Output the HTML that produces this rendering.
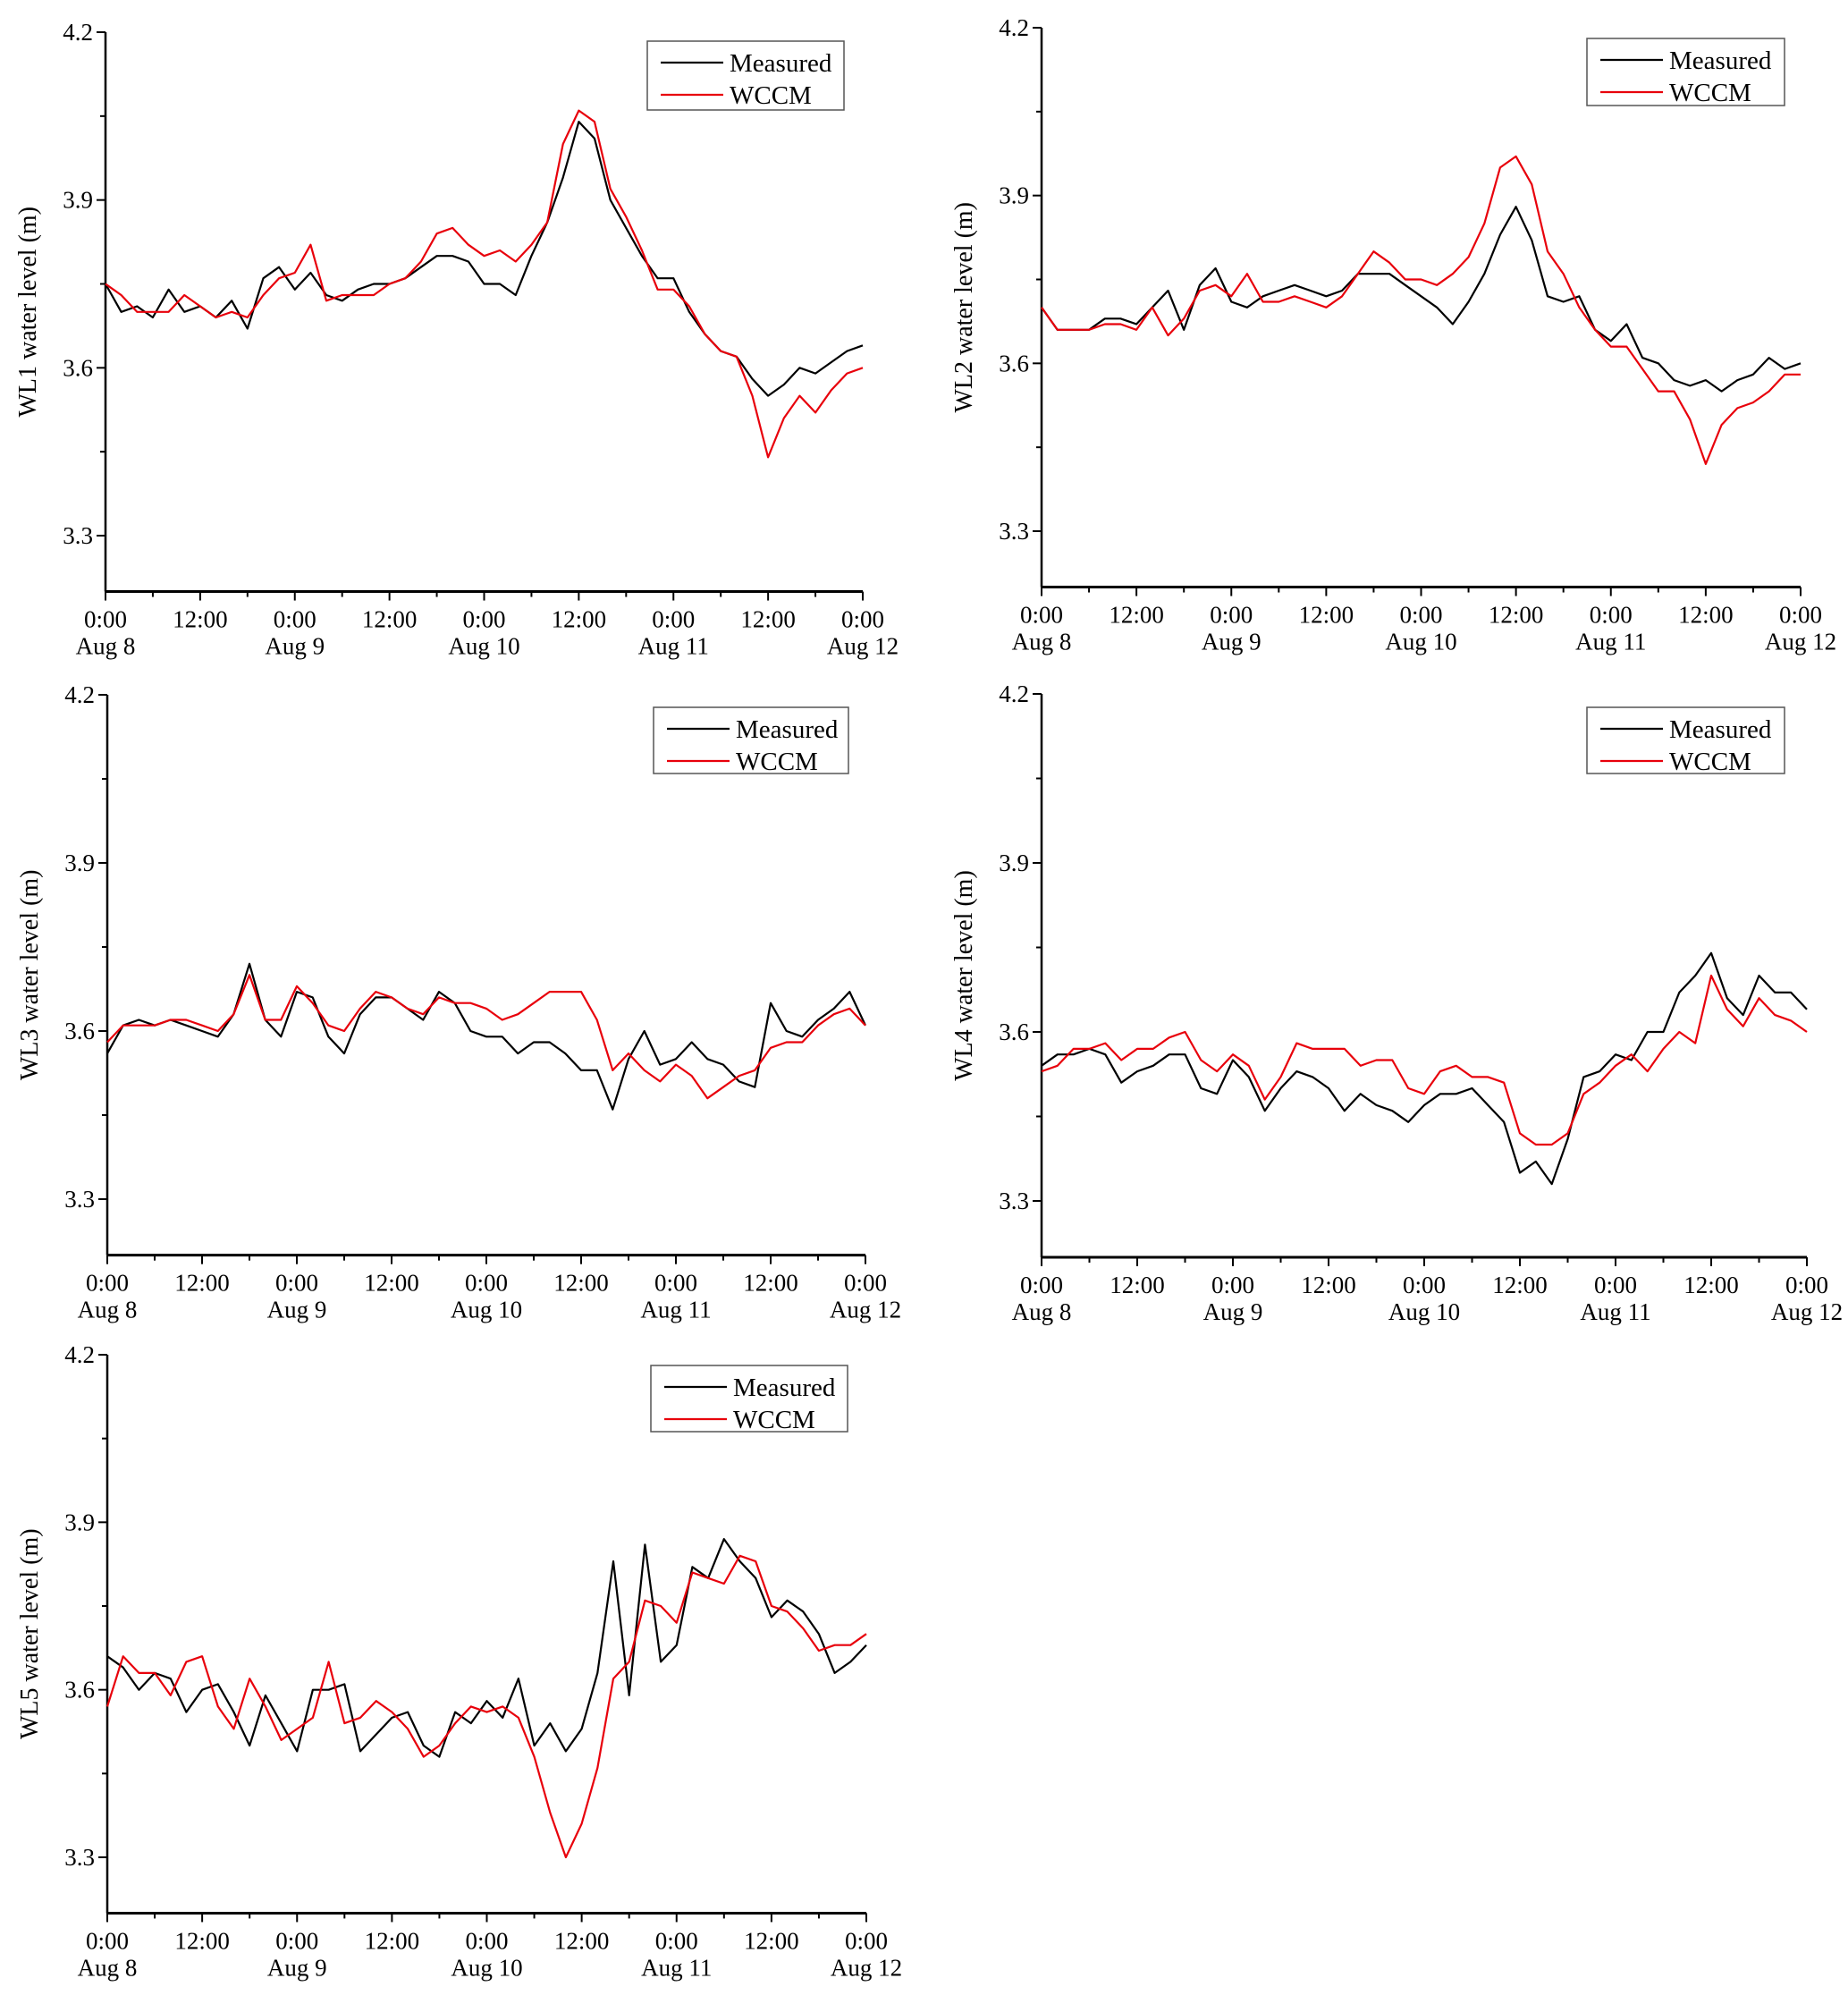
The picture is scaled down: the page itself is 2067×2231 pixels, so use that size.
<!DOCTYPE html>
<html><head><meta charset="utf-8"><style>
html,body{margin:0;padding:0;background:#fff;}
svg{display:block;font-family:"Liberation Serif",serif;}
</style></head><body>
<svg id="chart" width="2067" height="2231" viewBox="0 0 2067 2231" xmlns="http://www.w3.org/2000/svg"></svg>
<script>
const hours = [0,2,4,6,8,10,12,14,16,18,20,22,24,26,28,30,32,34,36,38,40,42,44,46,48,50,52,54,56,58,60,62,64,66,68,70,72,74,76,78,80,82,84,86,88,90,92,94,96];
const yTicks = [3.3,3.6,3.9,4.2];
const xTickLabels = ["0:00","12:00","0:00","12:00","0:00","12:00","0:00","12:00","0:00"];
const dayLabels = ["Aug 8","Aug 9","Aug 10","Aug 11","Aug 12"];
const stationNames = ["WL1","WL2","WL3","WL4","WL5"];
const measured1 = [3.75,3.70,3.71,3.69,3.74,3.70,3.71,3.69,3.72,3.67,3.76,3.78,3.74,3.77,3.73,3.72,3.74,3.75,3.75,3.76,3.78,3.80,3.80,3.79,3.75,3.75,3.73,3.80,3.86,3.94,4.04,4.01,3.90,3.85,3.80,3.76,3.76,3.70,3.66,3.63,3.62,3.58,3.55,3.57,3.60,3.59,3.61,3.63,3.64];
const wccm1 = [3.75,3.73,3.70,3.70,3.70,3.73,3.71,3.69,3.70,3.69,3.73,3.76,3.77,3.82,3.72,3.73,3.73,3.73,3.75,3.76,3.79,3.84,3.85,3.82,3.80,3.81,3.79,3.82,3.86,4.00,4.06,4.04,3.92,3.87,3.81,3.74,3.74,3.71,3.66,3.63,3.62,3.55,3.44,3.51,3.55,3.52,3.56,3.59,3.60];
const measured2 = [3.70,3.66,3.66,3.66,3.68,3.68,3.67,3.70,3.73,3.66,3.74,3.77,3.71,3.70,3.72,3.73,3.74,3.73,3.72,3.73,3.76,3.76,3.76,3.74,3.72,3.70,3.67,3.71,3.76,3.83,3.88,3.82,3.72,3.71,3.72,3.66,3.64,3.67,3.61,3.60,3.57,3.56,3.57,3.55,3.57,3.58,3.61,3.59,3.60];
const wccm2 = [3.70,3.66,3.66,3.66,3.67,3.67,3.66,3.70,3.65,3.68,3.73,3.74,3.72,3.76,3.71,3.71,3.72,3.71,3.70,3.72,3.76,3.80,3.78,3.75,3.75,3.74,3.76,3.79,3.85,3.95,3.97,3.92,3.80,3.76,3.70,3.66,3.63,3.63,3.59,3.55,3.55,3.50,3.42,3.49,3.52,3.53,3.55,3.58,3.58];
const measured3 = [3.56,3.61,3.62,3.61,3.62,3.61,3.60,3.59,3.63,3.72,3.62,3.59,3.67,3.66,3.59,3.56,3.63,3.66,3.66,3.64,3.62,3.67,3.65,3.60,3.59,3.59,3.56,3.58,3.58,3.56,3.53,3.53,3.46,3.55,3.60,3.54,3.55,3.58,3.55,3.54,3.51,3.50,3.65,3.60,3.59,3.62,3.64,3.67,3.61];
const wccm3 = [3.58,3.61,3.61,3.61,3.62,3.62,3.61,3.60,3.63,3.70,3.62,3.62,3.68,3.65,3.61,3.60,3.64,3.67,3.66,3.64,3.63,3.66,3.65,3.65,3.64,3.62,3.63,3.65,3.67,3.67,3.67,3.62,3.53,3.56,3.53,3.51,3.54,3.52,3.48,3.50,3.52,3.53,3.57,3.58,3.58,3.61,3.63,3.64,3.61];
const measured4 = [3.54,3.56,3.56,3.57,3.56,3.51,3.53,3.54,3.56,3.56,3.50,3.49,3.55,3.52,3.46,3.50,3.53,3.52,3.50,3.46,3.49,3.47,3.46,3.44,3.47,3.49,3.49,3.50,3.47,3.44,3.35,3.37,3.33,3.41,3.52,3.53,3.56,3.55,3.60,3.60,3.67,3.70,3.74,3.66,3.63,3.70,3.67,3.67,3.64];
const wccm4 = [3.53,3.54,3.57,3.57,3.58,3.55,3.57,3.57,3.59,3.60,3.55,3.53,3.56,3.54,3.48,3.52,3.58,3.57,3.57,3.57,3.54,3.55,3.55,3.50,3.49,3.53,3.54,3.52,3.52,3.51,3.42,3.40,3.40,3.42,3.49,3.51,3.54,3.56,3.53,3.57,3.60,3.58,3.70,3.64,3.61,3.66,3.63,3.62,3.60];
const measured5 = [3.66,3.64,3.60,3.63,3.62,3.56,3.60,3.61,3.56,3.50,3.59,3.54,3.49,3.60,3.60,3.61,3.49,3.52,3.55,3.56,3.50,3.48,3.56,3.54,3.58,3.55,3.62,3.50,3.54,3.49,3.53,3.63,3.83,3.59,3.86,3.65,3.68,3.82,3.80,3.87,3.83,3.80,3.73,3.76,3.74,3.70,3.63,3.65,3.68];
const wccm5 = [3.57,3.66,3.63,3.63,3.59,3.65,3.66,3.57,3.53,3.62,3.57,3.51,3.53,3.55,3.65,3.54,3.55,3.58,3.56,3.53,3.48,3.50,3.54,3.57,3.56,3.57,3.55,3.48,3.38,3.30,3.36,3.46,3.62,3.65,3.76,3.75,3.72,3.81,3.80,3.79,3.84,3.83,3.75,3.74,3.71,3.67,3.68,3.68,3.70];
const measuredSeries = [measured1,measured2,measured3,measured4,measured5];
const wccmSeries = [wccm1,wccm2,wccm3,wccm4,wccm5];

const panels = [
 {x0:118,x1:965,yTop:36,yLow:599,lx:724,ly:46,lw:220,lh:77},
 {x0:1165,x1:2014,yTop:31,yLow:594,lx:1775,ly:43,lw:221,lh:75},
 {x0:120,x1:968,yTop:777,yLow:1341,lx:731,ly:791,lw:218,lh:74},
 {x0:1165,x1:2021,yTop:776,yLow:1343,lx:1775,ly:791,lw:221,lh:74},
 {x0:120,x1:969,yTop:1515,yLow:2077,lx:728,ly:1527,lw:220,lh:74}
];
const NS="http://www.w3.org/2000/svg";
const svg=document.getElementById('chart');
function mk(tag,attrs,parent){const e=document.createElementNS(NS,tag);for(const k in attrs)e.setAttribute(k,attrs[k]);(parent||svg).appendChild(e);return e;}

panels.forEach((p,i)=>{
 const g=mk('g',{});
 
 
 const sx=h=>p.x0+(h/96)*(p.x1-p.x0);
 const sy=v=>p.yLow-(v-3.3)/0.9*(p.yLow-p.yTop);
 const yBottom=sy(3.2);
 const ya=mk('line',{x1:p.x0,y1:p.yTop,x2:p.x0,y2:yBottom,stroke:'#000','stroke-width':2.5},g);
 
 
 const xa=mk('line',{x1:p.x0,y1:yBottom,x2:p.x1,y2:yBottom,stroke:'#000','stroke-width':3},g);
 
 
 for(let v=3.3;v<=4.21;v+=0.15){
  const major=Math.abs(((v-3.3)/0.3)-Math.round((v-3.3)/0.3))<0.01;
  mk('line',{x1:p.x0,y1:sy(v),x2:p.x0-(major?10:6),y2:sy(v),stroke:'#000','stroke-width':2},g);
 }
 yTicks.forEach(v=>{
  const t=mk('text',{x:p.x0-14,y:sy(v)+9,'text-anchor':'end','font-size':27},g);
  t.textContent=v.toFixed(1);
  
  
 });
 for(let h=0;h<=96;h+=6){
  const major=h%12===0;
  mk('line',{x1:sx(h),y1:yBottom,x2:sx(h),y2:yBottom+(major?10:6),stroke:'#000','stroke-width':2},g);
 }
 xTickLabels.forEach((s,k)=>{
  const t=mk('text',{x:sx(k*12),y:yBottom+40,'text-anchor':'middle','font-size':27},g);
  t.textContent=s;
  
  
 });
 dayLabels.forEach((s,k)=>{
  const t=mk('text',{x:sx(k*24),y:yBottom+70,'text-anchor':'middle','font-size':27},g);
  t.textContent=s;
  
  
 });
 const cy=(p.yTop+yBottom)/2;
 const yt=mk('text',{x:p.x0-78,y:cy,'text-anchor':'middle','font-size':28,transform:'rotate(-90 '+(p.x0-78)+' '+cy+')'},g);
 yt.textContent=stationNames[i]+' water level (m)';
 
 
 const mkPath=arr=>arr.map((v,k)=>(k?'L':'M')+sx(hours[k]).toFixed(1)+','+sy(v).toFixed(1)).join('');
 const lm=mk('path',{d:mkPath(measuredSeries[i]),fill:'none',stroke:'#000','stroke-width':2.2,'stroke-linejoin':'round'},g);
 
 
 const lw=mk('path',{d:mkPath(wccmSeries[i]),fill:'none',stroke:'#e8000b','stroke-width':2.2,'stroke-linejoin':'round'},g);
 
 
 const lg=mk('g',{},g);
 
 
 mk('rect',{x:p.lx,y:p.ly,width:p.lw,height:p.lh,fill:'#fff',stroke:'#555','stroke-width':1.5},lg);
 mk('line',{x1:p.lx+15,y1:p.ly+24,x2:p.lx+85,y2:p.ly+24,stroke:'#000','stroke-width':2.2},lg);
 mk('line',{x1:p.lx+15,y1:p.ly+60,x2:p.lx+85,y2:p.ly+60,stroke:'#e8000b','stroke-width':2.2},lg);
 const t1=mk('text',{x:p.lx+92,y:p.ly+34,'font-size':29},lg);
 t1.textContent='Measured';
 
 
 const t2=mk('text',{x:p.lx+92,y:p.ly+70,'font-size':29},lg);
 t2.textContent='WCCM';
 
 
});
</script>
</body></html>
